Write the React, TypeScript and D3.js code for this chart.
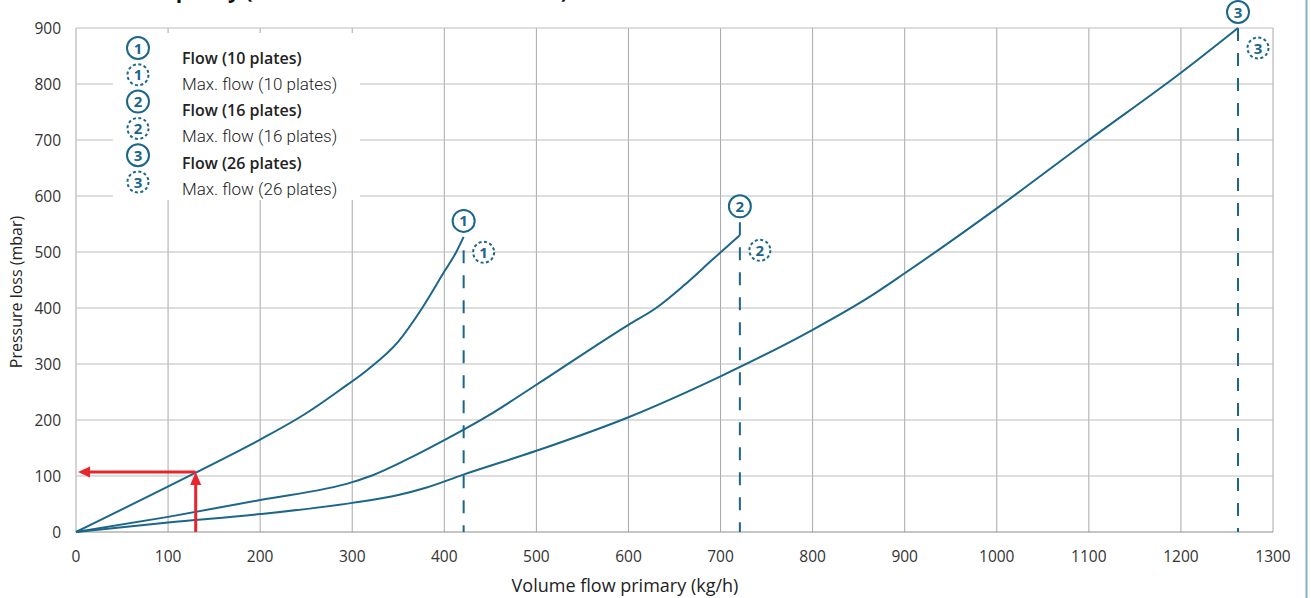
import React from "react";
import * as d3 from "d3";

const xTicks = [0, 100, 200, 300, 400, 500, 600, 700, 800, 900, 1000, 1100, 1200, 1300];
const yTicks = [0, 100, 200, 300, 400, 500, 600, 700, 800, 900];

const flow10: [number, number][] = [
  [0, 0], [130, 106], [200, 165], [250, 212], [287, 254], [316, 289], [350, 340],
  [376, 400], [400, 465], [413, 500], [421, 527],
];
const flow16: [number, number][] = [
  [0, 0], [100, 27], [200, 57], [300, 89], [320, 100], [360, 130], [400, 164],
  [450, 210], [500, 263], [600, 370], [630, 400], [660, 440], [691, 486], [721, 530],
];
const flow26: [number, number][] = [
  [0, 0], [100, 17], [200, 32], [300, 52], [350, 66], [380, 79], [420, 102],
  [500, 145], [600, 205], [700, 278], [800, 361], [860, 418], [900, 462],
  [1000, 578], [1100, 700], [1200, 820], [1262, 900],
];
const maxFlows = [
  { label: "1", x: 421, top: 503 },
  { label: "2", x: 721, top: 553 },
  { label: "3", x: 1262, top: 900 },
];
const maxBadgeDy = [2, 28, 20];
const legendItems = [
  { label: "1", text: "Flow (10 plates)", dashed: false },
  { label: "1", text: "Max. flow (10 plates)", dashed: true },
  { label: "2", text: "Flow (16 plates)", dashed: false },
  { label: "2", text: "Max. flow (16 plates)", dashed: true },
  { label: "3", text: "Flow (26 plates)", dashed: false },
  { label: "3", text: "Max. flow (26 plates)", dashed: true },
];
const example = { x: 130, y: 107 };

const BLUE = "#1b6689";
const RED = "#e8252b";
const GRID = "#a8a8a8";
const FONT = "'Open Sans', sans-serif";

function Badge({ cx, cy, label, dashed }: { cx: number; cy: number; label: string; dashed: boolean }) {
  return (
    <g>
      <circle cx={cx} cy={cy} r={dashed ? 10.5 : 11} fill="white" stroke={BLUE}
        strokeWidth={2} strokeDasharray={dashed ? "3,2.5" : undefined} />
      <text x={cx} y={cy + 5.5} textAnchor="middle" fontFamily={FONT} fontWeight={700}
        fontSize={15} fill={BLUE}>{label}</text>
    </g>
  );
}

export default function App() {
  const W = 1311, H = 598;
  const x = d3.scaleLinear().domain([0, 1300]).range([76, 1273]);
  const y = d3.scaleLinear().domain([0, 900]).range([532, 28]);
  const line = d3.line<[number, number]>().x(d => x(d[0])).y(d => y(d[1])).curve(d3.curveMonotoneX);
  const series = [flow10, flow16, flow26];

  const ex = x(example.x), ey = y(example.y);
  return (
    <svg width={W} height={H} style={{ position: "absolute", left: 0, top: 0, background: "white" }}>
      <rect width={W} height={H} fill="white" />
      {/* cropped title */}
      <text x={87} y={-2} fontFamily={FONT} fontWeight={700} fontSize={21} fill="#111">
        Loss / capacity (Heat Interface Unit Model HX)
      </text>
      {/* grid */}
      {xTicks.map(t => (
        <line key={"gx" + t} x1={x(t)} x2={x(t)} y1={y(900)} y2={y(0)} stroke={GRID} strokeWidth={1} />
      ))}
      {yTicks.map(t => (
        <line key={"gy" + t} x1={x(0)} x2={x(1300)} y1={y(t)} y2={y(t)} stroke={t === 0 ? "#8c8c8c" : "#bdbdbd"} strokeWidth={1} />
      ))}
      {/* tick labels */}
      {xTicks.map(t => (
        <text key={"tx" + t} x={x(t)} y={562} textAnchor="middle" fontFamily={FONT} fontSize={15.5} fill="#333">{t}</text>
      ))}
      {yTicks.map(t => (
        <text key={"ty" + t} x={61} y={y(t) + 5.5} textAnchor="end" fontFamily={FONT} fontSize={15.5} fill="#333">{t}</text>
      ))}
      {/* axis titles */}
      <text x={625} y={592} textAnchor="middle" fontFamily={FONT} fontSize={18} fill="#222">Volume flow primary (kg/h)</text>
      <text transform={`translate(22,292) rotate(-90)`} textAnchor="middle" fontFamily={FONT} fontSize={16} fill="#222">Pressure loss (mbar)</text>
      {/* legend */}
      <rect x={113} y={33} width={247} height={167} fill="white" />
      {legendItems.map((it, i) => (
        <g key={"lg" + i}>
          <Badge cx={138} cy={48 + i * 26.8} label={it.label} dashed={it.dashed} />
          <text x={182} y={63.5 + i * 26.3} fontFamily={it.dashed ? "Roboto, sans-serif" : FONT}
            fontWeight={it.dashed ? 300 : 600} fontSize={it.dashed ? 17 : 16} fill="#222">{it.text}</text>
        </g>
      ))}
      {/* max flow dashed lines */}
      {maxFlows.map((m, i) => (
        <line key={"mf" + i} x1={x(m.x)} x2={x(m.x)} y1={y(m.top)} y2={y(0)} stroke={BLUE}
          strokeWidth={2} strokeDasharray="13,12" />
      ))}
      {/* curves */}
      {series.map((s, i) => (
        <path key={"s" + i} d={line(s) || ""} fill="none" stroke={BLUE} strokeWidth={2} />
      ))}
      {/* red example arrows */}
      <line x1={ex} x2={ex} y1={y(0)} y2={ey + 12} stroke={RED} strokeWidth={3} />
      <path d={`M${ex},${ey} L${ex - 5.5},${ey + 13} L${ex + 5.5},${ey + 13} Z`} fill={RED} />
      <line x1={ex} x2={x(0) + 12} y1={ey} y2={ey} stroke={RED} strokeWidth={3} />
      <path d={`M${x(0) + 2},${ey} L${x(0) + 14},${ey - 5.5} L${x(0) + 14},${ey + 5.5} Z`} fill={RED} />
      {/* badges at curve ends */}
      {series.map((s, i) => {
        const last = s[s.length - 1];
        const topY = Math.min(y(last[1]), y(maxFlows[i].top));
        return <Badge key={"b" + i} cx={x(last[0])} cy={topY - 16} label={String(i + 1)} dashed={false} />;
      })}
      {maxFlows.map((m, i) => (
        <Badge key={"bm" + i} cx={x(m.x) + 20} cy={y(m.top) + maxBadgeDy[i]} label={m.label} dashed={true} />
      ))}
      {/* right edge border */}
      <line x1={1306.5} x2={1306.5} y1={0} y2={H} stroke="#86afc9" strokeWidth={2} />
    </svg>
  );
}
